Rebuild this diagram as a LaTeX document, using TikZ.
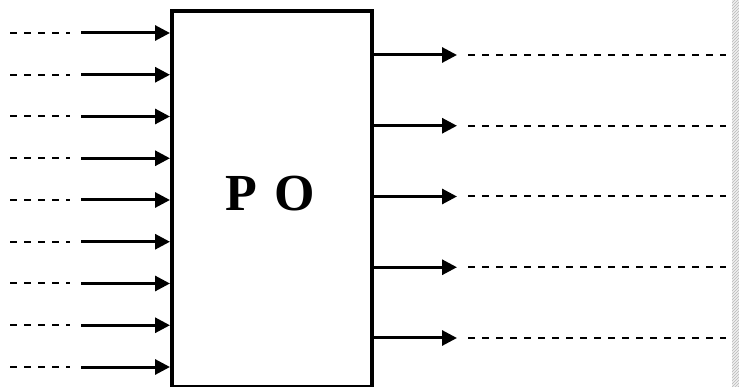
\documentclass[tikz,border=0pt]{standalone}
\usepackage{fontspec}
\setmainfont{Liberation Serif}
\usetikzlibrary{arrows.meta,patterns}
\begin{document}
\begin{tikzpicture}[x=1pt,y=-1pt,
  blockbox/.style={draw=black,line width=3.6pt,minimum width=200pt,minimum height=375pt,inner sep=0pt},
  solidarrow/.style={line width=3pt,-{Triangle[length=15pt,width=15pt]}},
  dashline/.style={line width=2pt,dash pattern=on 7pt off 7pt}]
\useasboundingbox (0,0) rectangle (739,387);
\fill[gray!12] (732,0) rectangle (739,387);
\fill[pattern=north east lines,pattern color=gray!55] (732,0) rectangle (739,387);
\node[blockbox,anchor=north west] (po) at (170,9.5) {};
\node[font=\fontsize{52}{62}\selectfont\bfseries] (lab) at (270,194) {P\,\,O};
\foreach \i in {0,...,8}{
  \pgfmathsetmacro{\yy}{33+41.75*\i}
  \coordinate (ds\i) at (10,\yy);
  \coordinate (de\i) at (70,\yy);
  \coordinate (as\i) at (81,\yy);
  \coordinate (at\i) at (po.west |- as\i);
  \draw[dashline] (ds\i) -- (de\i);
  \draw[solidarrow] (as\i) -- (at\i);
}
\foreach \i in {0,...,4}{
  \pgfmathsetmacro{\yy}{55+70.75*\i}
  \coordinate (ob\i) at (370,\yy);
  \coordinate (ot\i) at (457,\yy);
  \coordinate (os\i) at (468,\yy);
  \coordinate (oe\i) at (726,\yy);
  \draw[solidarrow] (po.east |- ob\i) -- (ot\i);
  \draw[dashline] (os\i) -- (oe\i);
}
\end{tikzpicture}
\end{document}
